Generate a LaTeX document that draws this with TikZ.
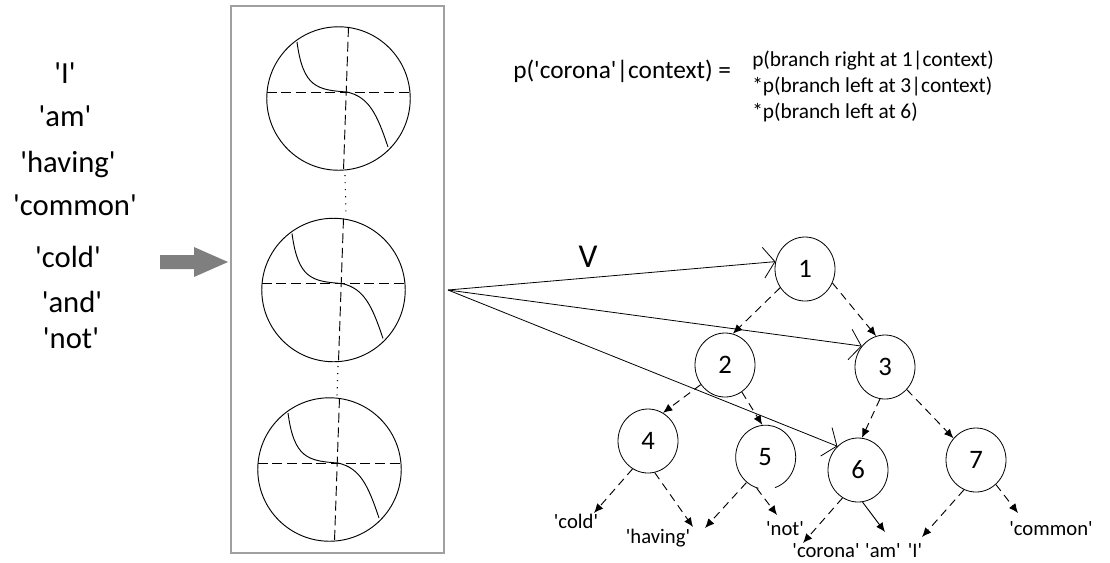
\documentclass[tikz,border=0pt]{standalone}
\usepackage{fontspec}
\setmainfont{Carlito}[Ligatures=TeXOff]
\usetikzlibrary{arrows.meta,shapes.geometric}
\definecolor{boxgray}{RGB}{160,160,160}
\definecolor{arrowgray}{RGB}{127,127,127}
\begin{document}
\begin{tikzpicture}[x=0.75pt,y=-0.75pt,
  word/.style={anchor=base,inner sep=0pt,font=\fontsize{23}{27}\selectfont},
  tnode/.style={ellipse,minimum width=45pt,minimum height=48pt,inner sep=0pt,font=\fontsize{20}{22}\selectfont,line width=0.6pt},
  leaf/.style={anchor=base,inner sep=0pt,font=\fontsize{15.5}{18}\selectfont},
  tedge/.style={line width=0.7pt,dash pattern=on 6pt off 4pt,-{Latex[length=7pt,width=6pt]}},
  vedge/.style={line width=0.6pt,-{Straight Barb[length=8.5pt,width=23pt]}},
  axisline/.style={line width=0.7pt,dash pattern=on 7.5pt off 3.5pt},
  curveline/.style={line width=0.7pt},
  dotline/.style={line width=0.8pt,dash pattern=on 0.8pt off 4.5pt}
]
\useasboundingbox (0,0) rectangle (1110,562);

% input words
\node[word] (wI) at (65,83) {'I'};
\node[word] (wam) at (65,126) {'am'};
\node[word] (whaving) at (68,172) {'having'};
\node[word] (wcommon) at (75,215) {'common'};
\node[word] (wcold) at (68,267) {'cold'};
\node[word] (wand) at (72,312) {'and'};
\node[word] (wnot) at (71,348) {'not'};

% gray block arrow
\fill[arrowgray] (160,255) -- (194,255) -- (194,247) -- (228,262) -- (194,277) -- (194,269) -- (160,269) -- cycle;

% box
\draw[boxgray,line width=1pt] (231,6) rectangle (444,553);

% circles with curves
\foreach \cx/\cy in {338.5/98.5, 333.5/290, 329.5/469.5}{
  \begin{scope}[shift={(\cx,\cy)}]
    \draw[curveline] (0,0) circle[radius=53.8pt];
    \draw[axisline] (-72,-6.5) -- (73,-6.5);
    \draw[axisline] (10,-71.5) -- (5,71.5);
    \draw[curveline] (-41.5,-56.5) .. controls (-35.5,-11.5) and (-21.5,-8.5) .. (8.5,-6.5)
                     .. controls (30.5,-1.5) and (38.5,15.5) .. (49.5,48.5);
  \end{scope}
}
\draw[dotline] (345,175) -- (346,214);
\draw[dotline] (338,366) -- (337,396);

% formula
\node[anchor=base west,inner sep=0pt,font=\fontsize{19}{22}\selectfont] (lhs) at (513,78) {p('corona'|context) =};
\node[anchor=base west,inner sep=0pt,font=\fontsize{16}{19}\selectfont] (r1) at (752,66) {p(branch right at 1|context)};
\node[anchor=base west,inner sep=0pt,font=\fontsize{16}{19}\selectfont] (r2) at (752,92) {*p(branch left at 3|context)};
\node[anchor=base west,inner sep=0pt,font=\fontsize{16}{19}\selectfont] (r3) at (752,118) {*p(branch left at 6)};

% tree nodes
\node[tnode,draw] (n1) at (805,269) {1};
\node[tnode,draw] (n2) at (725,365) {2};
\node[tnode,draw] (n3) at (885,367) {3};
\node[tnode,draw] (n4) at (648,441) {4};
\node[tnode] (n5) at (765,457) {5};
\draw[line width=0.6pt] (n5.-72) arc[start angle=-72, delta angle=328, x radius=22.5pt, y radius=24pt];
\node[tnode,draw] (n6) at (858,470) {6};
\node[tnode,draw] (n7) at (976,460) {7};

% leaf labels
\node[leaf] (lcold) at (576,528) {'cold'};
\node[leaf] (lhaving) at (658,543) {'having'};
\node[leaf] (lnot) at (785,535) {'not'};
\node[leaf] (lcorona) at (826,557) {'corona'};
\node[leaf] (lam) at (883,557) {'am'};
\node[leaf] (lI) at (915,557) {'I'};
\node[leaf] (lcommon) at (1051,535) {'common'};

% V arrows
\coordinate (vo) at (448,290);
\node[anchor=base,inner sep=0pt,font=\fontsize{25}{30}\selectfont] (vl) at (588,267) {V};
\draw[vedge] (vo) -- (n1.166);
\draw[vedge] (vo) -- (n3.138);
\draw[vedge] (vo) -- (n6.131);

% tree edges
\draw[tedge] (n1.217) -- (n2.76);
\draw[tedge] (n1.333) -- (n3.106);
\draw[tedge] (n2.219) -- (n4.62);
\draw[tedge] (n2.302) -- (n5.95);
\draw[tedge] (n3.261) -- (n6.83);
\draw[tedge] (n3.314) -- (n7.136);

% leaf edges
\coordinate (c4a) at (594,513);
\coordinate (c4b) at (693,527);
\coordinate (c5a) at (705,528);
\coordinate (c5b) at (777,515);
\coordinate (c6a) at (803,543);
\coordinate (c6b) at (885,532);
\coordinate (c7a) at (922,537);
\coordinate (c7b) at (1018,513);
\draw[tedge] (n4.241) -- (c4a);
\draw[tedge] (n4.282) -- (c4b);
\draw[tedge] (n5.234) -- (c5a);
\draw[tedge] (n5.255) -- (c5b);
\draw[tedge] (n6.241) -- (c6a);
\draw[line width=0.7pt,-{Latex[length=7pt,width=6pt]}] (n6.278) -- (c6b);
\draw[tedge] (n7.248) -- (c7a);
\draw[tedge] (n7.309) -- (c7b);
\end{tikzpicture}
\end{document}
